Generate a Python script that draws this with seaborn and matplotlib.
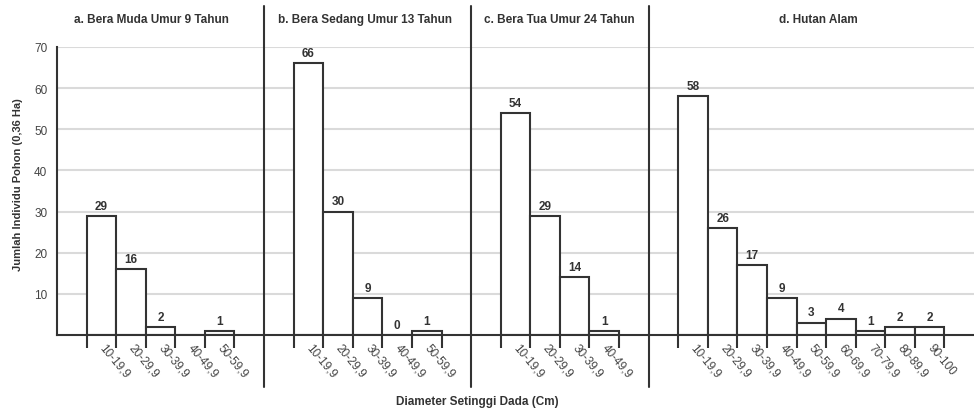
import matplotlib
matplotlib.use("Agg")
import matplotlib.pyplot as plt
import seaborn as sns
import pandas as pd

sns.set_theme(style="white")
plt.rcParams['font.family'] = ['Liberation Sans', 'DejaVu Sans']

# ---- data ----
titles = ["a. Bera Muda Umur 9 Tahun", "b. Bera Sedang Umur 13 Tahun",
          "c. Bera Tua Umur 24 Tahun", "d. Hutan Alam"]
cats_a = ["10-19,9", "20-29,9", "30-39,9", "40-49,9", "50-59,9"]
vals_a = [29, 16, 2, 0, 1]
labels_a = ["29", "16", "2", "", "1"]
cats_b = ["10-19,9", "20-29,9", "30-39,9", "40-49,9", "50-59,9"]
vals_b = [66, 30, 9, 0, 1]
labels_b = ["66", "30", "9", "0", "1"]
cats_c = ["10-19,9", "20-29,9", "30-39,9", "40-49,9"]
vals_c = [54, 29, 14, 1]
labels_c = ["54", "29", "14", "1"]
cats_d = ["10-19,9", "20-29,9", "30-39,9", "40-49,9", "50-59,9",
          "60-69,9", "70-79,9", "80-89,9", "90-100"]
vals_d = [58, 26, 17, 9, 3, 4, 1, 2, 2]
labels_d = ["58", "26", "17", "9", "3", "4", "1", "2", "2"]
y_ticks = [10, 20, 30, 40, 50, 60, 70]
ylabel = "Jumlah Individu Pohon (0,36 Ha)"
xlabel = "Diameter Setinggi Dada (Cm)"

panels = [(cats_a, vals_a, labels_a), (cats_b, vals_b, labels_b),
          (cats_c, vals_c, labels_c), (cats_d, vals_d, labels_d)]

W, H = 974, 414
fig = plt.figure(figsize=(W / 100, H / 100), dpi=100)
widths = [len(p[0]) + 2 for p in panels]
gs = fig.add_gridspec(1, 4, width_ratios=widths, wspace=0,
                      left=57 / W, right=1.0, bottom=1 - 336 / H, top=1 - 48 / H)

dark = "#333333"
grey_txt = "#444444"
title_x = [151, 365, 559, 818]

for i, (cats, vals, labs) in enumerate(panels):
    ax = fig.add_subplot(gs[0, i])
    df = pd.DataFrame({"cat": cats, "val": vals})
    sns.barplot(data=df, x="cat", y="val", ax=ax, color="white", saturation=1,
                edgecolor=dark, linewidth=1.5, width=1.0, zorder=3)
    n = len(cats)
    ax.set_xlim(-1.5, n + 0.5)
    ax.set_ylim(0, 70)
    ax.set_yticks(y_ticks)
    ax.yaxis.grid(True, color="#dadada", lw=1.5, zorder=0)
    ax.set_axisbelow(True)
    for s in ["top", "right"]:
        ax.spines[s].set_visible(False)
    ax.spines["bottom"].set_color(dark)
    ax.spines["bottom"].set_linewidth(1.5)
    ax.spines["bottom"].set_zorder(4)
    if i == 0:
        ax.spines["left"].set_color(dark)
        ax.spines["left"].set_linewidth(1.5)
        ax.tick_params(axis="y", length=0, labelsize=8.5, labelcolor=grey_txt, pad=7)
    else:
        ax.spines["left"].set_visible(False)
        ax.tick_params(axis="y", length=0, labelleft=False)
        ax.axvline(-1.5, ymin=-0.18, ymax=1.143, color=dark, lw=1.5, clip_on=False, zorder=5)
    ax.set_xlabel("")
    ax.set_ylabel("")
    # edge ticks
    ax.set_xticks(range(n))
    ax.set_xticks([k - 0.5 for k in range(n + 1)], minor=True)
    ax.tick_params(axis="x", which="minor", bottom=True, length=9, width=1.5,
                   color=dark, direction="out")
    ax.tick_params(axis="x", which="major", bottom=True, length=0, pad=7,
                   labelsize=8.5, labelcolor=grey_txt)
    ax.set_xticklabels(cats, rotation=-50, ha="left", va="center", rotation_mode="anchor")
    for k, (v, lab) in enumerate(zip(vals, labs)):
        if lab:
            ax.annotate(lab, (k, v), xytext=(0, 3), textcoords="offset points",
                        ha="center", va="bottom", fontsize=8.5, fontweight="bold", color=dark)
    fig.text(title_x[i] / W, 1 - 20 / H, titles[i], ha="center", va="center",
             fontsize=8.5, fontweight="bold", color=dark)

fig.text(18 / W, 1 - 185 / H, ylabel, rotation=90, ha="center", va="center",
         fontsize=8, fontweight="bold", color=dark)
fig.text(477 / W, 1 - 402 / H, xlabel, ha="center", va="center",
         fontsize=8.5, fontweight="bold", color=dark)

fig.savefig("out.png", dpi=100)
